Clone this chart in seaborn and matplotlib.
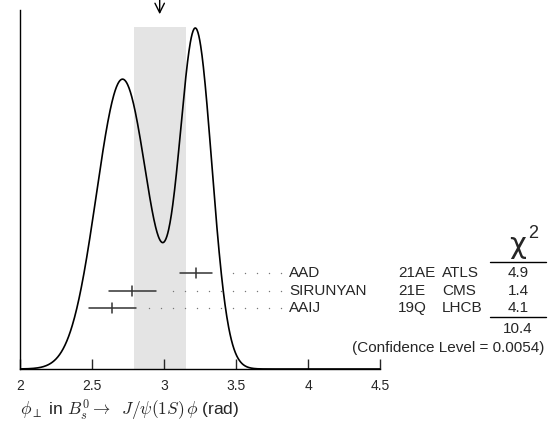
import numpy as np
import pandas as pd
import seaborn as sns
import matplotlib
matplotlib.use("Agg")
from matplotlib import pyplot as plt

names = ["AAD", "SIRUNYAN", "AAIJ"]
years = ["21AE", "21E", "19Q"]
experiments = ["ATLS", "CMS", "LHCB"]
values = [3.22, 2.78, 2.64]
errors = [0.112, 0.162, 0.164]
chi2_terms = ["4.9", "1.4", "4.1"]
chi2_total = "10.4"
conf_level = "0.0054"
mean_value = 2.97
mean_error = 0.18
x_ticks = [2, 2.5, 3, 3.5, 4, 4.5]

sns.set_style("white")
plt.rcParams['font.family'] = ['Liberation Sans', 'DejaVu Sans']
plt.rcParams['mathtext.fontset'] = 'cm'

fig = plt.figure(figsize=(5.52, 4.30), dpi=100)
ax = fig.add_axes([20 / 552, 61 / 430, 360 / 552, 359 / 430])

# ideogram: each measurement a gaussian with area ~ 1/sigma
grid = np.linspace(2, 4.5, 800)
curve = np.zeros_like(grid)
for v, e in zip(values, errors):
    curve += np.exp(-0.5 * ((grid - v) / e) ** 2) / e ** 2
curve = curve / curve.max() * 341
df = pd.DataFrame({"x": grid, "y": curve})

ax.axvspan(mean_value - mean_error, mean_value + mean_error, ymin=0, ymax=342 / 359,
           color="#e4e4e4", lw=0, zorder=0)
sns.lineplot(data=df, x="x", y="y", ax=ax, color="black", lw=1.2, zorder=3)

# error bars + dotted leaders
rows_y = [96.3, 78.3, 61]
name_x = 3.868
step = 12 / 144
for v, e, y, nm, yr, ex, c in zip(values, errors, rows_y, names, years, experiments, chi2_terms):
    ax.plot([v - e, v + e], [y, y], color="#333333", lw=1.1, zorder=4)
    ax.plot([v, v], [y - 5, y + 5], color="#333333", lw=1.1, zorder=4)
    dots = np.arange(3.815, v + e + step, -step)
    ax.scatter(dots, np.full_like(dots, y), s=1.0, color="#777777", lw=0, zorder=2)
    ax.text(name_x, y, nm, fontsize=11, va="center", ha="left")
    ax.text(4.625, y, yr, fontsize=11, va="center", ha="left")
    ax.text(4.931, y, ex, fontsize=11, va="center", ha="left")
    ax.text(5.458, y, c, fontsize=11, va="center", ha="center")

ax.text(5.455, 124, "χ", fontsize=21, ha="center", va="center", family="DejaVu Sans")
ax.text(5.56, 136, "2", fontsize=13, ha="center", va="center")
ax.plot([5.264, 5.653], [107, 107], color="black", lw=1, clip_on=False)
ax.plot([5.264, 5.653], [52, 52], color="black", lw=1, clip_on=False)
ax.text(5.458, 40, chi2_total, fontsize=11, ha="center", va="center")
ax.text(5.64, 21, "(Confidence Level = " + conf_level + ")", fontsize=11, ha="right", va="center")

# arrow at the mean
ax.annotate("", xy=(mean_value, 352), xytext=(mean_value, 372),
            arrowprops=dict(arrowstyle="->", color="black", lw=1, mutation_scale=17),
            annotation_clip=False)

ax.set_xlim(2, 4.5)
ax.set_ylim(0, 359)
ax.set_xticks(x_ticks)
ax.set_xticklabels(["2", "2.5", "3", "3.5", "4", "4.5"])
ax.set_yticks([])
ax.tick_params(axis="x", direction="in", length=7, width=1, labelsize=10, pad=7, bottom=True)
ax.set_xlabel("")
ax.set_ylabel("")
for s in ["top", "right"]:
    ax.spines[s].set_visible(False)
for s in ["left", "bottom"]:
    ax.spines[s].set_color("black")
    ax.spines[s].set_linewidth(1)
ax.patch.set_alpha(0)

fig.text(20 / 552, 1 - 410 / 430, r"$\phi_\perp$ in $B_s^0 \rightarrow\;\; J/\psi(1S)\,\phi$ (rad)",
         fontsize=12.5, ha="left", va="center")

fig.savefig("out.png", dpi=100)
